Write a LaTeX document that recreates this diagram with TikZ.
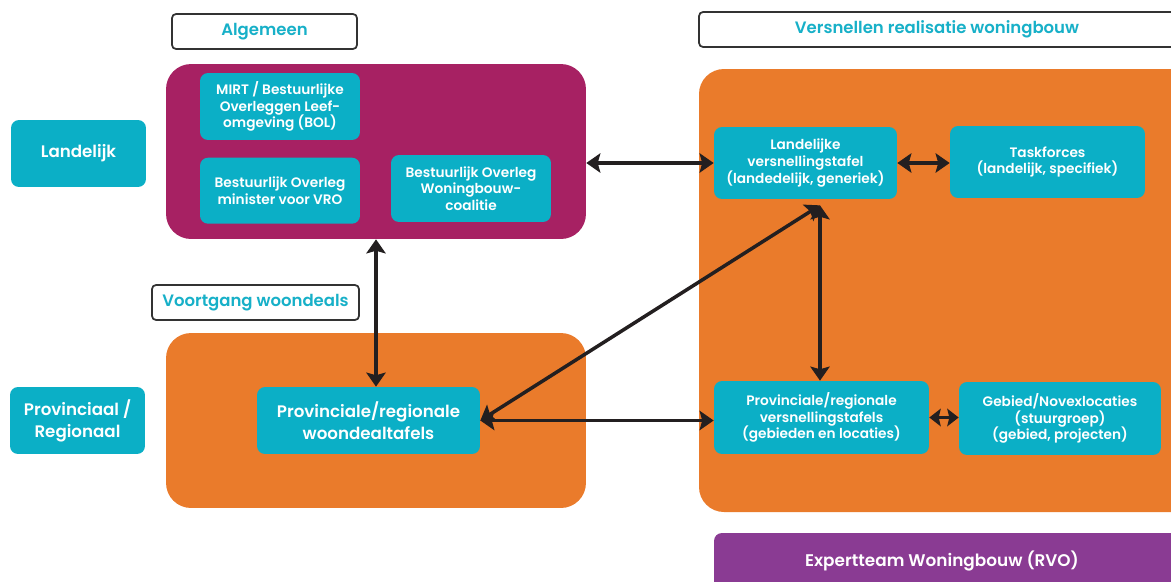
\documentclass[tikz,border=0pt]{standalone}
\usepackage{fontspec}
\setmainfont{Poppins}[UprightFont={* SemiBold},BoldFont={* Bold}]
\usetikzlibrary{arrows.meta,positioning,calc}
\definecolor{tegelblauw}{HTML}{0BAFC6}
\definecolor{wijnrood}{HTML}{A72163}
\definecolor{oranje}{HTML}{EA7B2B}
\definecolor{paars}{HTML}{8A3B93}
\definecolor{koptekst}{HTML}{17B0C8}
\definecolor{pijlzwart}{HTML}{231F20}

\begin{document}
\begin{tikzpicture}[x=0.02cm,y=-0.02cm,
    tegel/.style={fill=tegelblauw, text=white, rounded corners=0.16cm, align=center,
      font=\fontsize{7.8}{9.4}\selectfont, inner sep=2pt},
    grotetegel/.style={tegel, font=\fontsize{9.5}{12.4}\selectfont},
    kop/.style={draw=black!80, line width=1pt, rounded corners=0.08cm, fill=white,
      text=koptekst, font=\fontsize{9.4}{11}\selectfont, minimum height=0.7cm},
    paneel/.style={rounded corners=0.5cm},
    pijl/.style={draw=pijlzwart, line width=2pt,
      {Stealth[length=8pt,width=11pt,inset=1.5pt]}-{Stealth[length=8pt,width=11pt,inset=1.5pt]}},
    kortepijl/.style={pijl,
      {Stealth[length=6.5pt,width=10pt,inset=1.2pt]}-{Stealth[length=6.5pt,width=10pt,inset=1.2pt]}}]
  \useasboundingbox (0,0) rectangle (1171,582);

  % panels
  \node[paneel, fill=wijnrood, minimum width=8.4cm, minimum height=3.5cm] (landelijkpaneel) at (376,151.5) {};
  \node[paneel, fill=oranje, minimum width=8.4cm, minimum height=3.5cm] (woondealpaneel) at (376,420.5) {};
  \fill[oranje, rounded corners=0.5cm] (699,69) rectangle (1200,512);
  \fill[paars, rounded corners=0.16cm] (714,533) rectangle (1200,610);

  % headers
  \node[kop, minimum width=3.7cm] (algemeen) at (264.5,31.5) {Algemeen};
  \node[kop, minimum width=9.52cm] (versnellen) at (937,29.5) {Versnellen realisatie woningbouw};
  \node[kop, minimum width=4.14cm] (voortgang) at (255.5,302.5) {Voortgang woondeals};

  % levels
  \node[grotetegel, minimum width=2.7cm, minimum height=1.34cm] (landelijk) at (78.5,153.5) {Landelijk};
  \node[grotetegel, minimum width=2.7cm, minimum height=1.34cm] (provinciaal) at (77.5,420.5) {Provinciaal /\\Regionaal};

  % algemeen
  \node[tegel, minimum width=3.2cm, minimum height=1.34cm] (mirt) at (280,106.5) {MIRT / Bestuurlijke\\Overleggen Leef-\\omgeving (BOL)};
  \node[tegel, minimum width=3.2cm, minimum height=1.32cm, below=0.34cm of mirt] (minister) {Bestuurlijk Overleg\\minister voor VRO};
  \node[tegel, minimum width=3.2cm, minimum height=1.34cm] (coalitie) at (471,188.5) {Bestuurlijk Overleg\\Woningbouw-\\coalitie};

  % woondeals
  \node[grotetegel, minimum width=4.46cm, minimum height=1.34cm] (woondealtafels) at (368.5,420.5) {Provinciale/regionale\\woondealtaf{}els};

  % versnellen
  \node[tegel, minimum width=3.66cm, minimum height=1.44cm] (landversnel) at (805.5,163) {Landelijke\\versnellingstafel\\(landedelijk, generiek)};
  \node[tegel, minimum width=3.9cm, minimum height=1.44cm] (taskforces) at (1047.5,162) {Taskforces\\(landelijk, specifiek)};
  \node[tegel, minimum width=4.3cm, minimum height=1.46cm] (provversnel) at (821.5,417.5) {Provinciale/regionale\\versnellingstafels\\(gebieden en locaties)};
  \node[tegel, minimum width=4.04cm, minimum height=1.46cm] (gebied) at (1060,418.5) {Gebied/Novexlocaties\\(stuurgroep)\\(gebied, projecten)};
  \node[text=white, font=\fontsize{9.6}{12}\selectfont] (expert) at (942,561) {Expertteam Woningbouw (RVO)};

  \coordinate (knoop) at ($(landversnel.south)+(14.5,6)$);

  % connections
  \draw[pijl] (landelijkpaneel.east |- landversnel) -- (landversnel.west);
  \draw[pijl] (landversnel.east) -- (taskforces.west |- landversnel);
  \draw[pijl] (landelijkpaneel.south) -- (landelijkpaneel.south |- woondealtafels.north);
  \draw[pijl] (woondealtafels.east) -- (knoop);
  \draw[pijl] (knoop) -- (knoop |- provversnel.north);
  \draw[pijl] (woondealtafels.east) -- (provversnel.west |- woondealtafels);
  \draw[kortepijl] (provversnel.east) -- (gebied.west |- provversnel);
\end{tikzpicture}
\end{document}
